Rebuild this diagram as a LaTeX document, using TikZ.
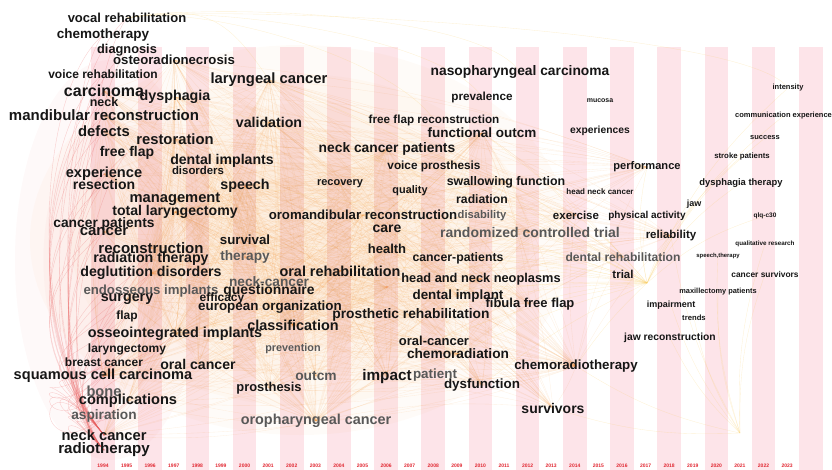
\documentclass[tikz,border=0pt]{standalone}
\usepackage{fontspec}
\setmainfont{Liberation Sans}
\usetikzlibrary{calc}

\definecolor{stripe}{RGB}{253,228,233}
\definecolor{kwdark}{RGB}{22,22,22}
\definecolor{kwgrey}{RGB}{88,88,88}
\definecolor{yearred}{RGB}{225,40,50}
\definecolor{edgeorange}{RGB}{240,150,60}
\definecolor{edgered}{RGB}{232,95,95}
\definecolor{edgeyellow}{RGB}{248,205,100}

\pgfdeclarelayer{background}
\pgfsetlayers{background,main}

\tikzset{
  kw/.style={inner sep=0pt, text=kwdark, font=\fontsize{#1}{#1}\selectfont\bfseries},
  kwg/.style={inner sep=0pt, text=kwgrey, font=\fontsize{#1}{#1}\selectfont\bfseries},
  yearlabel/.style={inner sep=0pt, text=yearred, font=\fontsize{5}{5}\selectfont\bfseries},
  oedge/.style={edgeorange, opacity=0.14, line width=0.35pt},
  yedge/.style={edgeyellow, opacity=0.28, line width=0.35pt},
  redge/.style={edgered, opacity=0.28, line width=0.4pt},
  haze/.style={edgeorange, opacity=0.035}
}

\begin{document}
\begin{tikzpicture}[x=1pt,y=-1pt]
  \useasboundingbox (0,0) rectangle (832,470);

  % year labels
  \foreach \yr [count=\i from 0] in {1994,...,2023}
    \node[yearlabel] (y\yr) at ({103+\i*23.59},466) {\yr};

  % keywords, left column
  \node[kw=13] (vocal) at (127,18) {vocal rehabilitation};
  \node[kw=13.5] (chemo) at (103,35) {chemotherapy};
  \node[kw=12.8] (diag) at (127,50) {diagnosis};
  \node[kw=13.2] (osteo) at (174,60) {osteoradionecrosis};
  \node[kw=12] (voicereh) at (103,74) {voice rehabilitation};
  \node[kw=16] (carc) at (104,91) {carcinoma};
  \node[kw=12.5] (neck) at (104,102) {neck};
  \node[kw=14.3] (dysph) at (175,97) {dysphagia};
  \node[kw=15] (mandib) at (104,115) {mandibular reconstruction};
  \node[kw=14.8] (defects) at (104,131) {defects};
  \node[kw=14.8] (restor) at (175,139) {restoration};
  \node[kw=14] (freeflap) at (127,153) {free flap};
  \node[kw=14.1] (dentimps) at (222,161) {dental implants};
  \node[kw=11.4] (disord) at (198,170) {disorders};
  \node[kw=14.6] (exper) at (104,174) {experience};
  \node[kw=14] (resect) at (104,184) {resection};
  \node[kw=14.3] (speech) at (245,186) {speech};
  \node[kw=14.7] (mgmt) at (175,199) {management};
  \node[kw=14.1] (totlar) at (175,212) {total laryngectomy};
  \node[kw=13.8] (canpat) at (104,224) {cancer patients};
  \node[kw=15] (cancer) at (104,232) {cancer};
  \node[kw=15] (recon) at (151,248) {reconstruction};
  \node[kw=14.2] (radther) at (151,259) {radiation therapy};
  \node[kw=14.2] (deglut) at (151,273) {deglutition disorders};
  \node[kwg=13.2] (endoss) at (151,291) {endosseous implants};
  \node[kw=14.3] (surgery) at (127,299) {surgery};
  \node[kw=12] (flap) at (127,316) {flap};
  \node[kw=14.4] (osseo) at (175,334) {osseointegrated implants};
  \node[kw=12] (laryngec) at (127,349) {laryngectomy};
  \node[kw=12] (breast) at (104,362) {breast cancer};
  \node[kw=14.1] (oralca) at (198,364) {oral cancer};
  \node[kw=14.6] (squam) at (103,376) {squamous cell carcinoma};
  \node[kwg=14.6] (bone) at (104,391) {bone};
  \node[kw=14.6] (compl) at (128,401) {complications};
  \node[kwg=13.7] (aspir) at (104,416) {aspiration};
  \node[kw=14.7] (neckca) at (104,435) {neck cancer};
  \node[kw=15.1] (radio) at (104,450) {radiotherapy};

  % keywords, middle
  \node[kw=14.8] (laryng) at (269,80) {laryngeal cancer};
  \node[kw=14.2] (valid) at (269,122) {validation};
  \node[kw=13.3] (survival) at (245,240) {survival};
  \node[kwg=13.7] (therapy) at (245,257) {therapy};
  \node[kwg=13.7] (neckcan) at (269,282) {neck-cancer};
  \node[kw=13.9] (quest) at (269,291) {questionnaire};
  \node[kw=12] (effic) at (222,298) {efficacy};
  \node[kw=13.4] (europ) at (270,307) {european organization};
  \node[kw=14.4] (classif) at (293,325) {classification};
  \node[kwg=10.8] (prevent) at (293,349) {prevention};
  \node[kwg=13.8] (outcm) at (316,376) {outcm};
  \node[kw=12.9] (prosth) at (269,388) {prosthesis};
  \node[kwg=14.4] (oroph) at (316,421) {oropharyngeal cancer};
  \node[kw=11] (recov) at (340,184) {recovery};
  \node[kw=13.8] (neckpat) at (387,149) {neck cancer patients};
  \node[kw=13.2] (oromand) at (363,215) {oromandibular reconstruction};
  \node[kw=14.4] (orrehab) at (340,271) {oral rehabilitation};
  \node[kw=14] (care) at (387,229) {care};
  \node[kw=13] (health) at (387,249) {health};
  \node[kw=13.8] (prosreh) at (411,315) {prosthetic rehabilitation};
  \node[kw=15.3] (impact) at (387,377) {impact};
  \node[kwg=13.4] (patient) at (435,375) {patient};
  \node[kw=11.7] (ffrec) at (434,120) {free flap reconstruction};
  \node[kw=13.8] (nasoph) at (520,72) {nasopharyngeal carcinoma};
  \node[kw=11.7] (preval) at (482,97) {prevalence};
  \node[kw=13.5] (funcout) at (482,133) {functional outcm};
  \node[kw=11.8] (voicepro) at (434,166) {voice prosthesis};
  \node[kw=10.9] (quality) at (410,191) {quality};
  \node[kw=12.4] (swallow) at (506,182) {swallowing function};
  \node[kw=12.2] (radiat) at (482,199) {radiation};
  \node[kwg=11.2] (disab) at (482,216) {disability};
  \node[kwg=14] (rct) at (530,232) {randomized controlled trial};
  \node[kw=12.3] (canpat2) at (458,258) {cancer-patients};
  \node[kw=12.8] (headneo) at (481,279) {head and neck neoplasms};
  \node[kw=13.4] (dentimp) at (458,296) {dental implant};
  \node[kw=13] (fibula) at (530,304) {fibula free flap};
  \node[kw=13] (oralca2) at (434,341) {oral-cancer};
  \node[kw=13.7] (chemorad) at (458,354) {chemoradiation};
  \node[kw=13.4] (dysfunc) at (482,385) {dysfunction};
  \node[kw=13.3] (chemort) at (576,366) {chemoradiotherapy};
  \node[kw=14] (survivors) at (553,408) {survivors};

  % keywords, right
  \node[kw=7] (mucosa) at (600,101) {mucosa};
  \node[kw=10.3] (experi) at (600,131) {experiences};
  \node[kw=11.1] (perform) at (647,167) {performance};
  \node[kw=8] (hncancer) at (600,192) {head neck cancer};
  \node[kw=11.5] (exercise) at (576,215) {exercise};
  \node[kw=10] (physact) at (647,216) {physical activity};
  \node[kw=11.5] (reliab) at (671,236) {reliability};
  \node[kwg=12.1] (dentreh) at (623,257) {dental rehabilitation};
  \node[kw=11.5] (trial) at (623,274) {trial};
  \node[kw=9] (jaw) at (694,204) {jaw};
  \node[kw=7.5] (intens) at (788,88) {intensity};
  \node[kw=7.5, anchor=west] (commexp) at (735,116) {communication experience};
  \node[kw=7.5] (success) at (765,138) {success};
  \node[kw=7.8] (stroke) at (742,156) {stroke patients};
  \node[kw=9.4] (dysther) at (741,183) {dysphagia therapy};
  \node[kw=6.5] (qlq) at (765,216) {qlq-c30};
  \node[kw=6.3] (qualres) at (765,244) {qualitative research};
  \node[kw=5.9] (speechther) at (718,256) {speech,therapy};
  \node[kw=8.4] (cansurv) at (765,274) {cancer survivors};
  \node[kw=7.4] (maxill) at (718,292) {maxillectomy patients};
  \node[kw=9] (impair) at (671,305) {impairment};
  \node[kw=7.7] (trends) at (694,318) {trends};
  \node[kw=10.3] (jawrec) at (670,338) {jaw reconstruction};

  \coordinate (trialhub) at (647,283);
  \coordinate (lowhub) at (740,433);
  \coordinate (midhub) at (387,287);

  \begin{pgfonlayer}{background}
    % year stripes
    \foreach \i in {0,2,...,30}
      \fill[stripe] ({91.2+\i*23.59},47) rectangle ({114.8+\i*23.59},470);

    % warm wash under the dense links
    \foreach \r in {1.0,0.85,0.7,0.55,0.4}
      \fill[haze] (300,240) ellipse ({270*\r} and {195*\r});
    \foreach \r in {1.0,0.7}
      \fill[edgered, opacity=0.04] (110,260) ellipse ({95*\r} and {200*\r});

    % co-occurrence links
    \foreach \h in {laryng,dysph,osteo,restor,speech,mgmt,dentimps,valid,neckpat,orrehab,oromand,funcout,headneo,prosreh,chemorad,health,midhub,totlar,deglut,classif,osseo,squam,oroph,chemort}
      \foreach \t in {carc,mandib,defects,exper,cancer,recon,surgery,osseo,squam,compl,neckca,radther,deglut,totlar,survival,quest,europ,classif,care,quality,recov,swallow,dentimp,fibula,oralca,impact,dysfunc,chemort,survivors,exercise,reliab,dentreh,rct,perform,outcm,oroph,prosth,therapy}
        \draw[oedge] (\h.center) to[bend left=8] (\t.center);
    \foreach \t in {neckpat,oromand,orrehab,headneo,prosreh,dentimp,fibula,chemorad,chemort,rct,swallow,exercise,care,health,valid,speech,recon,osseo,laryng,dysph,funcout,canpat2,oralca2,dysfunc}
      \draw[yedge] (trialhub) to[bend right=6] (\t.center);
    \foreach \t in {jawrec,trends,impair,maxill,cansurv,qualres,speechther,reliab,chemort,survivors}
      \draw[yedge] (lowhub) to[bend left=10] (\t.center);
    \foreach \t in {intens,commexp,success,stroke,dysther,qlq,jaw,perform,physact}
      \draw[yedge] (trialhub) to[bend left=12] (\t.center);
    \foreach \t in {vocal,chemo,diag,voicereh,carc,neck,mandib,defects,freeflap,exper,resect,canpat,cancer,recon,radther,deglut,surgery,flap,osseo,laryngec,breast,squam,bone,compl,aspir}
    {
      \draw[redge] (neckca.center) .. controls +(-75,-90) and +(-70,60) .. (\t.center);
      \draw[redge] (radio.center) .. controls +(-55,-60) and +(-40,50) .. (\t.center);
    }
    \foreach \t in {laryng,nasoph,preval,ffrec,intens}
      \draw[yedge] (vocal.center) .. controls +(80,-15) and +(-40,-60) .. (\t.center);
  \end{pgfonlayer}
\end{tikzpicture}
\end{document}
